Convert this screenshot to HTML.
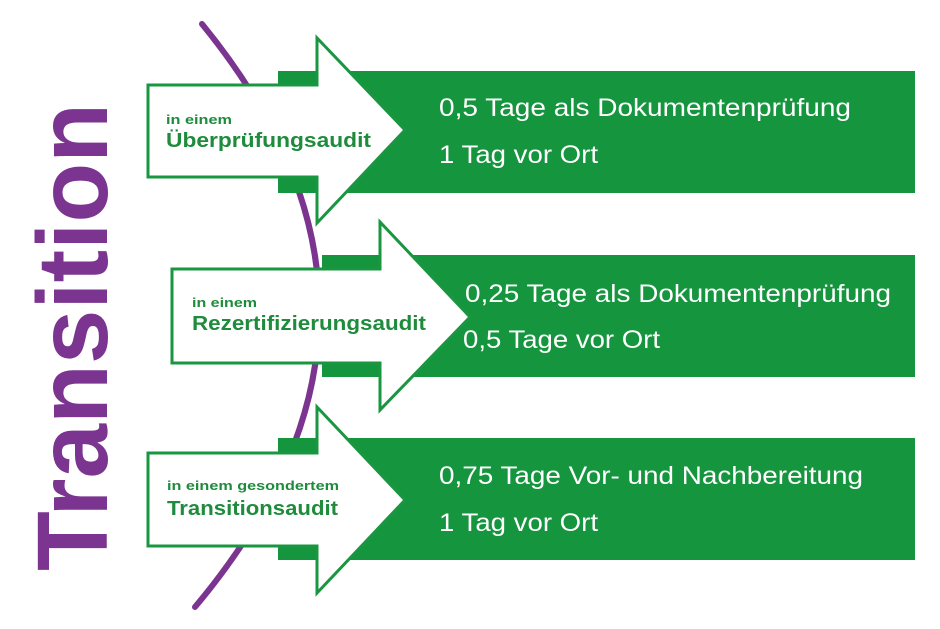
<!DOCTYPE html>
<html><head><meta charset="utf-8"><style>html,body{margin:0;padding:0;background:#fff}svg{display:block}</style></head>
<body>
<svg width="940" height="629" viewBox="0 0 940 629" xmlns="http://www.w3.org/2000/svg">
<rect width="940" height="629" fill="#fff"/>
<path d="M202,24 Q440,315 195,607" fill="none" stroke="#7b3590" stroke-width="6" stroke-linecap="round"/>
<text transform="translate(107,571) rotate(-90)" font-family="Liberation Sans, sans-serif" font-weight="bold" font-size="100" fill="#7b3590" textLength="468" lengthAdjust="spacingAndGlyphs">Transition</text>
<g fill="#16953f">
<rect x="278" y="71" width="637" height="122"/>
<rect x="322" y="255" width="593" height="122"/>
<rect x="278" y="438" width="637" height="122"/>
</g>
<g fill="#fff" stroke="#1a9641" stroke-width="3" stroke-linejoin="miter">
<polygon points="148,85 317,85 317,38 405,130 317,223 317,177 148,177"/>
<polygon points="172,269 380,269 380,222 470,317 380,410 380,363 172,363"/>
<polygon points="148,453 317,453 317,407 405,500 317,593 317,546 148,546"/>
</g>
<g font-family="Liberation Sans, sans-serif" font-weight="bold" fill="#1e8c3c">
<text x="166" y="124" font-size="13" textLength="66" lengthAdjust="spacingAndGlyphs">in einem</text>
<text x="166" y="147" font-size="20" textLength="205" lengthAdjust="spacingAndGlyphs">Überprüfungsaudit</text>
<text x="192" y="307" font-size="13" textLength="65" lengthAdjust="spacingAndGlyphs">in einem</text>
<text x="192" y="330" font-size="20" textLength="234" lengthAdjust="spacingAndGlyphs">Rezertifizierungsaudit</text>
<text x="167" y="490" font-size="13" textLength="172" lengthAdjust="spacingAndGlyphs">in einem gesondertem</text>
<text x="167" y="515" font-size="20" textLength="171" lengthAdjust="spacingAndGlyphs">Transitionsaudit</text>
</g>
<g font-family="Liberation Sans, sans-serif" fill="#fff" font-size="25">
<text x="439" y="116" textLength="412" lengthAdjust="spacingAndGlyphs">0,5 Tage als Dokumentenprüfung</text>
<text x="439" y="163" textLength="159" lengthAdjust="spacingAndGlyphs">1 Tag vor Ort</text>
<text x="465" y="302" textLength="426" lengthAdjust="spacingAndGlyphs">0,25 Tage als Dokumentenprüfung</text>
<text x="463" y="348" textLength="197" lengthAdjust="spacingAndGlyphs">0,5 Tage vor Ort</text>
<text x="439" y="484" textLength="424" lengthAdjust="spacingAndGlyphs">0,75 Tage Vor- und Nachbereitung</text>
<text x="439" y="531" textLength="159" lengthAdjust="spacingAndGlyphs">1 Tag vor Ort</text>
</g>
</svg>
</body></html>
